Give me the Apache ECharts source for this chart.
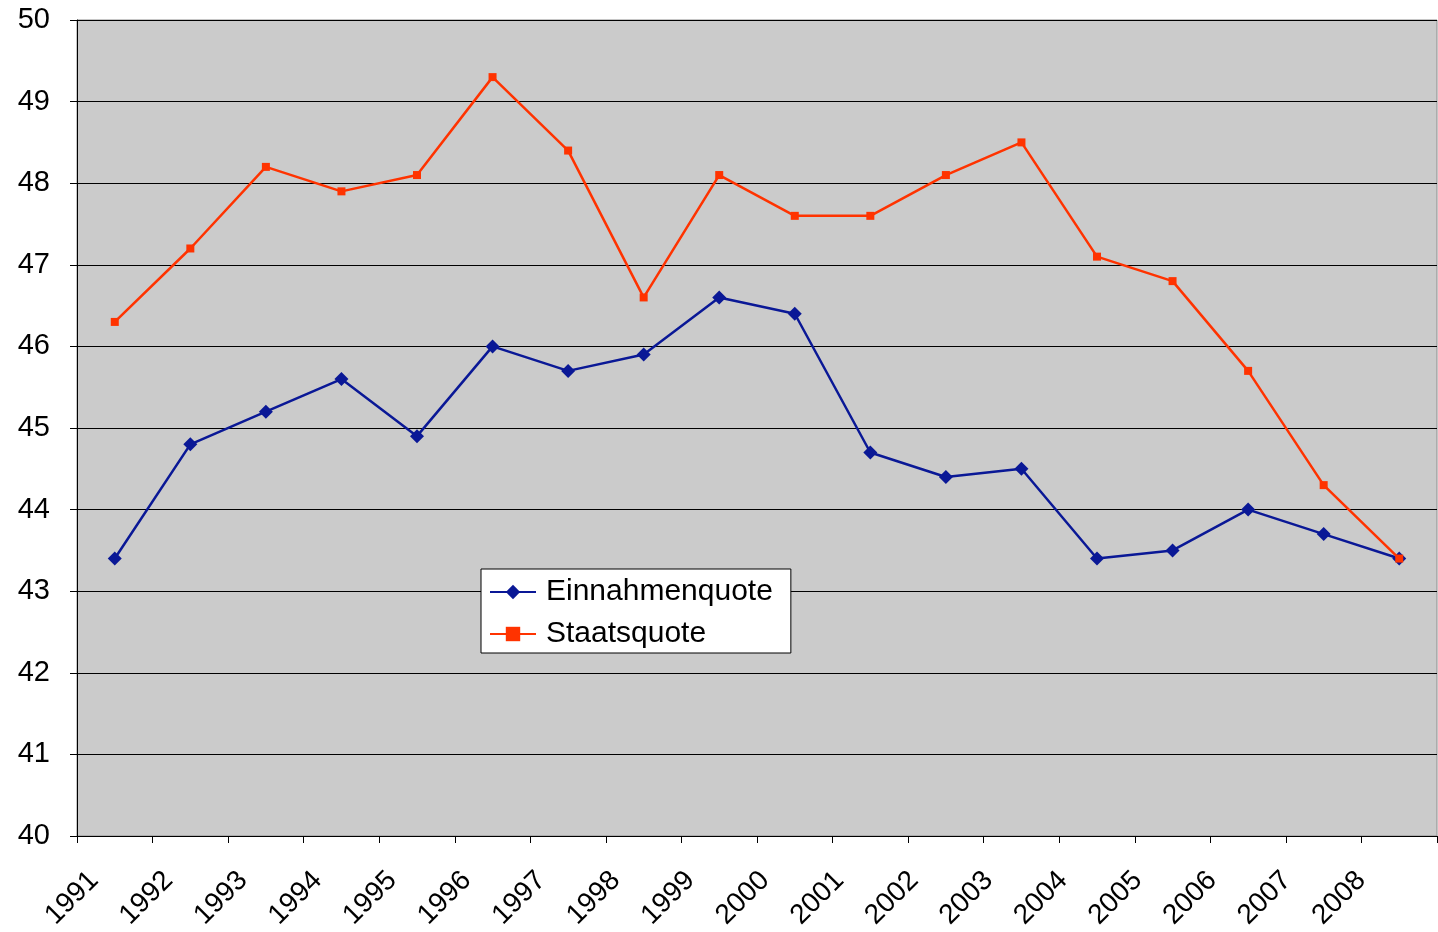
<!DOCTYPE html>
<html>
<head>
<meta charset="utf-8">
<script src="https://cdn.jsdelivr.net/npm/echarts@6/dist/echarts.min.js"></script>
<style>
  html, body { margin: 0; padding: 0; background: #fff; }
  #chart { width: 1438px; height: 932px; }
</style>
</head>
<body>
<div id="chart"></div>
<script>
// Jahre (Kategorien)
let years = ['1991', '1992', '1993', '1994', '1995', '1996', '1997', '1998', '1999',
             '2000', '2001', '2002', '2003', '2004', '2005', '2006', '2007', '2008'];
// Einnahmenquote in %
let einnahmen = [43.4, 44.8, 45.2, 45.6, 44.9, 46.0, 45.7, 45.9, 46.6,
                 46.4, 44.7, 44.4, 44.5, 43.4, 43.5, 44.0, 43.7, 43.4];
// Staatsquote in %
let staatsquote = [46.3, 47.2, 48.2, 47.9, 48.1, 49.3, 48.4, 46.6, 48.1,
                   47.6, 47.6, 48.1, 48.5, 47.1, 46.8, 45.7, 44.3, 43.4];

let chart = echarts.init(document.getElementById('chart'));

let font = 'Liberation Sans, Arial, sans-serif';
let labelShift = 17; // Beschriftung etwas rechts vom Teilstrich

let option = {
    animation: false,
    backgroundColor: '#ffffff',
    grid: [
        {
            left: 77,
            right: 1,
            top: 20,
            bottom: 96,
            show: true,
            backgroundColor: '#cbcbcb',
            borderColor: '#8c8c8c',
            borderWidth: 1
        },
        {
            // nur für die Jahresbeschriftung
            left: 77 + labelShift,
            right: 1 - labelShift,
            top: 20,
            bottom: 96,
            show: false
        }
    ],
    legend: {
        orient: 'vertical',
        left: 481,
        top: 569,
        backgroundColor: '#ffffff',
        borderColor: '#000000',
        borderWidth: 1,
        padding: [8, 18, 4, 8],
        itemWidth: 46,
        itemHeight: 18,
        itemGap: 12,
        textStyle: {
            fontFamily: font, fontSize: 30, color: '#000',
            padding: [0, 0, 0, 5]
        },
        data: ['Einnahmenquote', 'Staatsquote']
    },
    xAxis: [
        {
            type: 'category',
            gridIndex: 0,
            data: years,
            boundaryGap: true,
            axisLine: { lineStyle: { color: '#000', width: 1 } },
            axisTick: { show: true, length: 7, lineStyle: { color: '#000' } },
            axisLabel: { show: false },
            splitLine: { show: false }
        },
        {
            type: 'value',
            gridIndex: 1,
            position: 'bottom',
            min: 0,
            max: years.length,
            interval: 1,
            axisLine: { show: false },
            axisTick: { show: false },
            splitLine: { show: false },
            axisLabel: {
                show: true,
                rotate: 45,
                margin: 42,
                fontFamily: font,
                fontSize: 28,
                color: '#000',
                formatter: function (v) {
                    return v < years.length ? years[v] : '';
                }
            }
        }
    ],
    yAxis: [
        {
            type: 'value',
            gridIndex: 0,
            min: 40,
            max: 50,
            interval: 1,
            axisLine: { show: true, lineStyle: { color: '#000', width: 1 } },
            axisTick: { show: true, length: 7, lineStyle: { color: '#000' } },
            axisLabel: { fontFamily: font, fontSize: 29, color: '#000', margin: 27 },
            splitLine: { show: true, lineStyle: { color: '#000', width: 1 } }
        },
        {
            type: 'value',
            gridIndex: 1,
            show: false,
            min: 40,
            max: 50
        }
    ],
    series: [
        {
            name: 'Einnahmenquote',
            type: 'line',
            xAxisIndex: 0,
            yAxisIndex: 0,
            data: einnahmen,
            symbol: 'diamond',
            symbolSize: 14,
            color: '#0a1896',
            lineStyle: { width: 2.5, color: '#0a1896' },
            itemStyle: { color: '#0a1896' },
            z: 3
        },
        {
            name: 'Staatsquote',
            type: 'line',
            xAxisIndex: 0,
            yAxisIndex: 0,
            data: staatsquote,
            symbol: 'rect',
            symbolSize: 8,
            color: '#ff3300',
            lineStyle: { width: 2.5, color: '#ff3300' },
            itemStyle: { color: '#ff3300' },
            z: 4
        }
    ]
};

chart.setOption(option);
</script>
</body>
</html>
